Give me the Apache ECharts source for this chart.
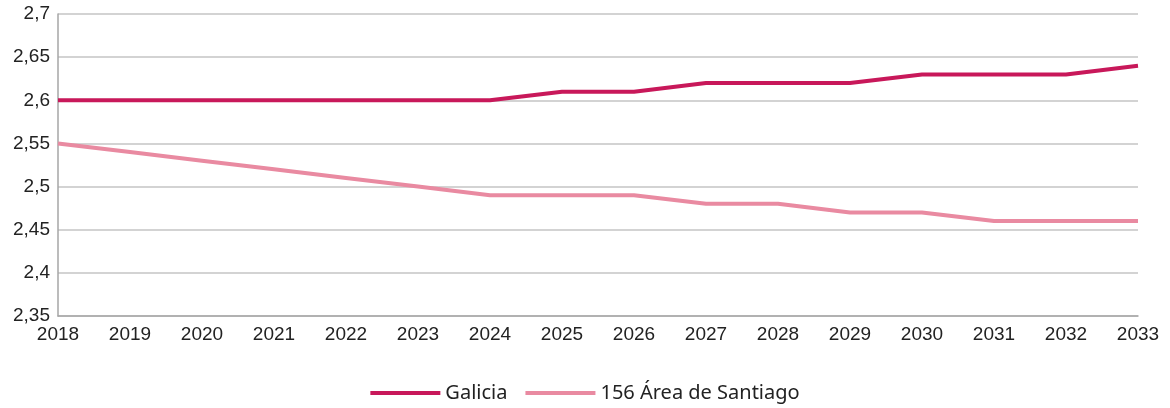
<!DOCTYPE html>
<html>
<head>
<meta charset="utf-8">
<script src="https://cdn.jsdelivr.net/npm/echarts@6/dist/echarts.min.js"></script>
<style>
  html, body { margin: 0; padding: 0; background: #fff; }
  #chart { width: 1170px; height: 408px; }
</style>
</head>
<body>
<div id="chart"></div>
<script>
const years = ['2018', '2019', '2020', '2021', '2022', '2023', '2024', '2025',
  '2026', '2027', '2028', '2029', '2030', '2031', '2032', '2033']
const galicia = [2.60, 2.60, 2.60, 2.60, 2.60, 2.60, 2.60, 2.61, 2.61, 2.62, 2.62, 2.62, 2.63, 2.63, 2.63, 2.64]
const santiago = [2.55, 2.54, 2.53, 2.52, 2.51, 2.50, 2.49, 2.49, 2.49, 2.48, 2.48, 2.47, 2.47, 2.46, 2.46, 2.46]

const chart = echarts.init(document.getElementById('chart'))

const option = {
  animation: false,
  grid: { left: 58, right: 32, top: 14, bottom: 92, containLabel: false },
  legend: {
    bottom: 0,
    left: 'center',
    itemWidth: 70,
    itemHeight: 4,
    itemGap: 18,
    icon: 'rect',
    textStyle: { fontFamily: 'Noto Sans', fontSize: 20, color: '#222' },
    data: ['Galicia', '156 Área de Santiago']
  },
  xAxis: {
    type: 'category',
    data: years,
    boundaryGap: false,
    axisLine: { lineStyle: { color: '#a6a6a6', width: 1.5 } },
    axisTick: { show: false },
    axisLabel: { color: '#222', fontFamily: 'Liberation Sans', fontSize: 19, margin: 9 }
  },
  yAxis: {
    type: 'value',
    min: 2.35,
    max: 2.7,
    interval: 0.05,
    axisLine: { show: true, lineStyle: { color: '#a6a6a6', width: 1.5 } },
    axisTick: { show: false },
    splitLine: { lineStyle: { color: '#c4c4c4', width: 1.5 } },
    axisLabel: {
      color: '#222',
      fontFamily: 'Liberation Sans',
      fontSize: 19,
      margin: 8,
      formatter: v => String(Math.round(v * 100) / 100).replace('.', ',')
    }
  },
  series: [
    {
      name: 'Galicia',
      type: 'line',
      data: galicia,
      symbol: 'none',
      lineStyle: { color: '#c8185a', width: 4 },
      itemStyle: { color: '#c8185a' }
    },
    {
      name: '156 Área de Santiago',
      type: 'line',
      data: santiago,
      symbol: 'none',
      lineStyle: { color: '#e98aa1', width: 4 },
      itemStyle: { color: '#e98aa1' }
    }
  ]
}

chart.setOption(option)
</script>
</body>
</html>
